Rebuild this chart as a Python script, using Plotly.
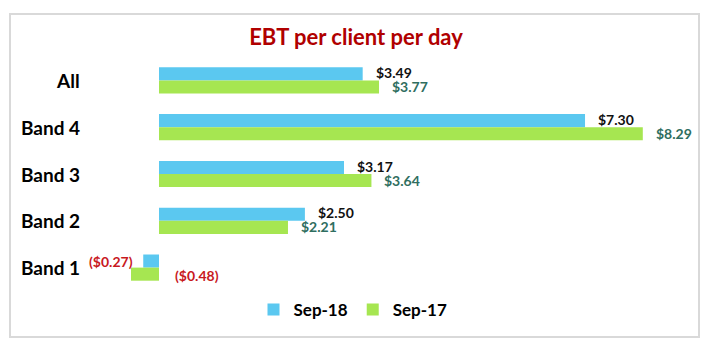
import plotly.graph_objects as go

# ---- data ----
categories = ["All", "Band 4", "Band 3", "Band 2", "Band 1"]
sep18 = [3.49, 7.30, 3.17, 2.50, -0.27]
sep17 = [3.77, 8.29, 3.64, 2.21, -0.48]
series_names = ["Sep-18", "Sep-17"]
title_text = "EBT per client per day"

# ---- style ----
W, H = 709, 351
L, R, T, B = 100, 700, 57, 291
ZERO_PX = 159
PPU = 58.36
xmin = (L - ZERO_PX) / PPU
xmax = (R - ZERO_PX) / PPU

BLUE = "#5BC8F0"
GREEN = "#A6E651"
TEAL = "#2F6E60"
RED = "#C8191E"
FONT = "Lato"


def px_to_paper_x(px):
    return (px - L) / (R - L)


def py_to_paper_y(py):
    return (B - py) / (B - T)


def fmt(v):
    return f"(${abs(v):.2f})" if v < 0 else f"${v:.2f}"


fig = go.Figure()
fig.add_trace(go.Bar(y=categories, x=sep18, name=series_names[0], orientation="h",
                     marker=dict(color=BLUE, line=dict(width=0))))
fig.add_trace(go.Bar(y=categories, x=sep17, name=series_names[1], orientation="h",
                     marker=dict(color=GREEN, line=dict(width=0))))

annotations = []
# category labels
for c in categories:
    annotations.append(dict(xref="paper", yref="y", x=px_to_paper_x(82), y=c,
                            text=f"<b>{c}</b>", showarrow=False, xanchor="right",
                            yanchor="middle", font=dict(family=FONT, size=19, color="#000000")))
# data labels
LBL = 14
for c, a, b in zip(categories, sep18, sep17):
    if a >= 0:
        annotations.append(dict(x=a, y=c, text=f"<b>{fmt(a)}</b>", showarrow=False,
                                xanchor="left", yanchor="middle", xshift=11, yshift=8,
                                font=dict(family=FONT, size=LBL, color="#111111")))
    else:
        annotations.append(dict(x=a, y=c, text=f"<b>{fmt(a)}</b>", showarrow=False,
                                xanchor="right", yanchor="middle", xshift=-8, yshift=6,
                                font=dict(family=FONT, size=LBL, color=RED)))
    if b >= 0:
        annotations.append(dict(x=b, y=c, text=f"<b>{fmt(b)}</b>", showarrow=False,
                                xanchor="left", yanchor="middle", xshift=11, yshift=-6,
                                font=dict(family=FONT, size=LBL, color=TEAL)))
    else:
        annotations.append(dict(x=0, y=c, text=f"<b>{fmt(b)}</b>", showarrow=False,
                                xanchor="left", yanchor="middle", xshift=14, yshift=-8,
                                font=dict(family=FONT, size=LBL, color=RED)))

fig.update_layout(
    width=W, height=H,
    margin=dict(l=L, r=W - R, t=T, b=H - B, pad=0, autoexpand=False),
    paper_bgcolor="white", plot_bgcolor="white",
    barmode="group", bargap=0.44, bargroupgap=0,
    title=dict(text=f"<b>{title_text}</b>", x=356 / W, xanchor="center",
               y=1 - 37 / H, yanchor="middle", yref="container", xref="container",
               font=dict(family=FONT, size=22, color="#B00000")),
    xaxis=dict(range=[xmin, xmax], showgrid=False, zeroline=False, showticklabels=False,
               showline=False, ticks=""),
    yaxis=dict(autorange="reversed", showgrid=False, zeroline=False, showticklabels=False,
               showline=False, ticks=""),
    legend=dict(orientation="h", xref="container", yref="container", x=353 / W, xanchor="center",
                y=1 - 310 / H, yanchor="middle",
                font=dict(family=FONT, size=17, color="#000000", weight="bold"),
                bgcolor="rgba(0,0,0,0)", itemclick=False, traceorder="normal"),
    annotations=annotations,
    shapes=[dict(type="rect", xref="paper", yref="paper",
                 x0=px_to_paper_x(10), x1=px_to_paper_x(699),
                 y0=py_to_paper_y(337), y1=py_to_paper_y(14),
                 line=dict(color="#D9D9D9", width=2), fillcolor="rgba(0,0,0,0)", layer="below")],
)
fig.write_html("out.html")
